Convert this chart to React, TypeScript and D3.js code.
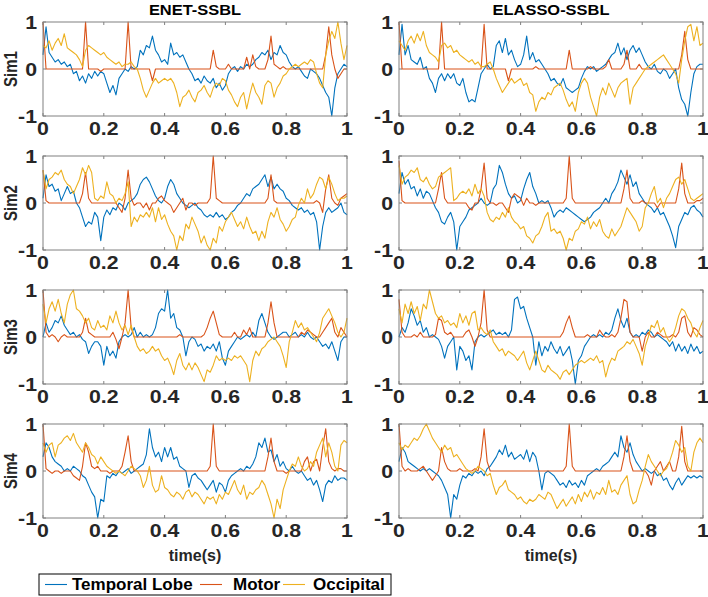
import React from 'react';
import * as d3 from 'd3';

// ---------- labels / ticks ----------
const columnTitles = ['ENET-SSBL', 'ELASSO-SSBL'];
const rowLabels = ['Sim1', 'Sim2', 'Sim3', 'Sim4'];
const xTicks = [0, 0.2, 0.4, 0.6, 0.8, 1];
const xTickLabels = ['0', '0.2', '0.4', '0.6', '0.8', '1'];
const yTicks = [-1, 0, 1];
const yTickLabels = ['-1', '0', '1'];
const seriesNames = ['Temporal Lobe', 'Motor', 'Occipital'];
const seriesColors = ['#0072BD', '#D95319', '#EDB120'];
const xAxisLabel = 'time(s)';
// samples every 0.01 s, 0 .. 1 s
const sampleTimes = d3.range(101).map((i) => i / 100);

// ---------- data: ENET-SSBL ----------
const tempL1 = [0.3,0.9,0.35,0.25,0.15,0.2,0.1,0.15,0.05,0.1,
-0.1,-0.05,-0.25,-0.15,-0.3,-0.1,-0.2,-0.05,-0.15,-0.05,
-0.1,-0.3,-0.5,-0.35,-0.55,-0.2,-0.1,0,-0.05,0.05,
0,0.05,0.4,0.3,0.5,0.45,0.7,0.4,0.3,0.15,
0.2,0.1,0.55,0.3,0.35,0.25,0.3,0.15,0,-0.1,
-0.25,-0.2,-0.3,-0.15,-0.25,-0.3,-0.2,-0.4,-0.3,-0.45,
-0.35,-0.1,0,0.05,-0.05,0.05,0,0.1,0.05,0.1,
0.2,0.25,0.35,0.3,0.4,0.2,0.35,0.3,0.5,0.35,
0.3,0.15,0.05,0,0.05,-0.05,-0.15,-0.2,0,-0.05,
-0.1,-0.2,-0.35,-0.5,-0.6,-1,-0.4,-0.1,0,0.1,
0.05];
const motorL1 = [1,0,0,0,0,0,0,0,0,0,
0,0,0,0,1,0,0,0,0,-0.05,
0,0,0,0,0,0,0,0,1,0,
0,0,0,0,0,0,-0.25,0,0,0,
0,0,0,0,0,0,0,0,0,0,
0,0,0,0,0,0,0.4,0.05,0,0,
0,0.1,0,0,0,0,0,0.25,0,0.3,
0.05,0,0,0,0.2,0.7,0.1,0.05,0,0.05,
0,0,0,0,0,0,0,0,0,0,
0,0,0,0.3,0.9,0.3,0,-0.2,-0.1,0,
0];
const occL1 = [0.5,0.45,0.6,0.4,0.55,0.65,0.5,0.75,0.45,0.4,
0.35,0.3,0.2,0.05,0.4,0.5,0.45,0.4,0.35,0.3,
0.35,0.25,0.2,0.15,0.1,0.15,0.05,0.1,0.1,0.15,
0.05,0,-0.2,-0.45,-0.6,-0.45,-0.3,-0.2,-0.3,-0.25,
-0.2,-0.25,-0.2,-0.3,-0.5,-0.8,-0.6,-0.55,-0.45,-0.6,
-0.7,-0.5,-0.45,-0.35,-0.5,-0.6,-0.4,-0.3,-0.35,-0.2,
-0.25,-0.45,-0.55,-0.7,-0.8,-0.6,-0.5,-0.85,-0.55,-0.3,
-0.5,-0.6,-0.75,-0.35,-0.25,-0.3,-0.6,-0.4,-0.3,-0.15,
-0.1,0,0.05,0.1,0.05,0.1,0.15,0.1,0.2,0.15,
-0.1,-0.3,-0.4,0.3,0.6,0.8,0.65,1,0.55,0.2,
0.5];

const tempL2 = [0.1,0.6,0.35,0.4,0.25,0.3,0.05,0.2,0.35,0.2,
0.25,0,-0.1,-0.3,-0.5,-0.4,-0.45,-0.2,-0.3,-0.8,
-0.3,-0.15,-0.25,-0.1,-0.15,0,-0.05,-0.15,0,0.05,
0.1,0.2,0.4,0.5,0.55,0.45,0.3,0.15,0.05,0,
0.1,0.35,0.5,0.4,0.2,0.1,0,-0.05,-0.1,-0.05,
0,-0.1,-0.15,-0.25,-0.3,-0.25,-0.3,-0.2,-0.3,-0.25,
-0.35,-0.3,-0.2,-0.15,-0.05,0,0.1,0.2,0.15,0.3,
0.35,0.4,0.5,0.6,0.35,0.55,0.3,0.4,0.3,0.25,
0.1,0.05,-0.05,-0.1,-0.15,-0.1,-0.2,-0.15,-0.25,-0.2,
-0.4,-1,-0.5,-0.2,-0.1,-0.2,-0.15,-0.1,0,-0.2,
-0.25];
const motorL2 = [0.7,0.05,0,0,0,0,0,0,0,0,
0,0,0,0.2,0.65,0.1,0,0,0,0,
0,0,0,0,0,-0.1,-0.2,0.1,0.7,0.1,
-0.05,0,0,-0.1,0,-0.15,0,0,0.1,0.15,
0.05,0,-0.05,-0.2,-0.1,0,0.1,-0.15,0,0,
-0.05,0,0,0,0,0.1,1,0.1,0.05,0,
0,0,0,0,0,0,0,0,0,0,
0,0,0,0,0.1,0.6,0.05,0,0,0,
0,0,0,0,0,0,0,0,0,0,
0.05,0,-0.2,0.3,0.6,0.1,0,-0.05,0.1,0.15,
0.2];
const occL2 = [0.7,0.3,0.5,0.55,0.65,0.6,0.7,0.5,0.4,0.35,
0.2,0.35,0.5,0.75,0.6,0.8,0.65,0.1,0.05,0.15,
0.1,0.45,0.2,0.15,0,0.1,0.05,0.2,0.45,-0.5,
-0.3,-0.4,-0.25,-0.3,-0.2,-0.3,-0.1,-0.4,-0.1,-0.35,
-0.25,-0.45,-0.6,-0.7,-1,-0.7,-0.8,-0.45,-0.55,-0.3,
-0.45,-0.6,-0.85,-0.7,-0.9,-1,-0.75,-0.85,-0.5,-0.6,
-0.4,-0.3,-0.2,-0.35,-0.5,-0.4,-0.55,-0.3,-0.5,-0.65,
-0.6,-0.8,-0.6,-0.75,-0.4,-0.2,-0.3,-0.1,-0.35,-0.45,
-0.6,-0.5,-0.35,-0.3,-0.05,0.1,0,0.3,0.1,0.2,
0.4,0.55,0.5,0.3,0.55,0.4,0.2,0.05,0.1,0.1,
0.15];

const tempL3 = [0,0.3,0.1,0.2,0.35,0.3,0.45,0.25,0.15,0.05,
0.1,0,0.05,-0.05,-0.1,-0.35,-0.2,-0.1,-0.1,-0.2,
-0.6,-0.2,-0.4,-0.3,-0.45,-0.1,0,0.05,0,0.05,
0.2,0,0.1,0,0.05,0,0.05,0.2,0.5,0.6,
0.55,1,0.4,0.5,0.2,0.15,0,-0.4,-0.1,0,
-0.05,-0.2,-0.15,-0.3,-0.2,-0.25,-0.15,-0.3,-0.1,-0.45,
-0.6,-0.3,-0.2,-0.1,0,-0.05,0,0.05,0,0.1,
0,0.35,0.5,0.3,0.1,0,-0.05,0,0.05,0.1,
0.1,0,0.05,0.1,0,0.05,0,0.1,0,-0.05,
0,-0.1,-0.2,-0.15,-0.25,-0.1,-0.3,-0.5,-0.1,0,
0];
const motorL3 = [1,0.1,0,0.05,0,-0.1,0,0.05,0,0,
0,0,0,0.1,0.4,0.1,0.05,0,0,0,
0,0,0,0.1,-0.05,-0.25,0,0.3,1,0.2,
0,0,0,0,0,0,0,0,0,0,
0,0,0,0,0,0.05,0,0,0,0,
0,0,0,0.05,0.2,0.4,0.55,0.3,0.05,0,
0,0,0,0.1,0,0,0.15,0.05,0.2,0,
0,0,0,0,0.3,0.75,0.3,0,0,0,
0,0,0,0,0,0.1,0.05,0.15,0.1,0.05,
0,0,0.1,0.2,0.3,0.4,0.1,0,0.2,0.1,
0];
const occL3 = [0.7,0.3,0.6,0.75,0.55,0.8,0.5,0.3,0.7,0.9,
1,0.6,0.55,0.45,0.3,0.4,0.2,0.15,0.35,0.2,
0.25,0.15,0.45,0.3,0.55,0.3,0.15,0.25,0.05,0.25,
0,-0.2,-0.3,-0.25,-0.35,-0.3,-0.2,-0.3,-0.25,-0.4,
-0.5,-0.45,-0.6,-0.8,-0.5,-0.35,-0.6,-0.7,-0.55,-0.7,
-0.55,-0.65,-0.8,-0.95,-0.7,-0.75,-0.6,-0.4,-0.5,-0.45,
-0.5,-0.45,-0.5,-0.4,-0.45,-0.4,-0.5,-0.6,-0.95,-0.5,
-0.3,-0.4,-0.25,-0.2,-0.1,-0.05,0,-0.1,-0.2,-0.4,
-0.65,-0.1,0.1,0.35,0.2,0.3,0.15,0.2,0.1,0,
-0.1,0.1,0.4,0.5,0.6,0.45,0.3,0.1,0,0.1,
0.4];

const tempL4 = [0.3,0.6,0.5,0.3,0.2,0.15,0.1,0,0.05,0,
0.1,0.05,0,-0.1,-0.15,-0.3,-0.45,-0.55,-1,-0.6,
-0.65,-0.1,-0.15,-0.05,-0.1,0,-0.05,0,0.05,-0.05,
0,0.05,0.1,0.15,0.35,0.9,0.5,0.3,0.4,0.2,
0.5,0.3,0.5,0.25,0.3,0.1,0.05,0,-0.35,-0.1,
-0.05,-0.15,-0.2,-0.3,-0.4,-0.3,-0.2,-0.45,-0.25,-0.3,
-0.45,-0.2,-0.1,-0.05,0,0.05,0,0.1,0.05,0.15,
0.3,0.6,0.5,0.7,0.4,0.45,0.2,0.35,0.1,0.2,
0.05,0,0.1,0,-0.05,0,-0.1,-0.2,-0.15,-0.3,
-0.2,-0.4,-0.65,-0.3,-0.2,-0.25,-0.1,-0.2,-0.15,-0.15,
-0.2];
const motorL4 = [1,0.05,0,-0.05,0,0,-0.05,0,0,0,
-0.1,-0.15,-0.2,0.1,0.6,0.4,0.1,0.05,0.1,0,
0,0,-0.05,0,0,0,0.1,0.4,0.75,0.2,
0,0,0,0,0,0,0,0,0,0,
0,0,0,0,0,0,0,0,0,0,
0,0,0,0,0,0.1,1,0.1,0,0,
0,0,0,0,0,0,0,0,0,0,
0,0,0,0,0.3,0.7,0.2,0,0,0,
-0.05,0,0,0,0,0,0.2,0.3,0,0.2,
0.25,0,0.5,0.9,0.2,0.05,0,0.05,0.05,0,
0];
const occL4 = [0.6,0.4,0.55,0.6,0.3,0.55,0.6,0.7,0.75,0.65,
0.8,0.6,0.5,0.4,0.6,0.5,0.35,0.3,0.15,0.3,
0.2,0.1,0.05,0,-0.05,0,-0.05,-0.1,0,0.1,
0.05,0,-0.1,-0.35,-0.2,0.1,-0.3,-0.45,-0.4,-0.1,
-0.35,-0.4,-0.5,-0.55,-0.45,-0.5,-0.6,-0.45,-0.4,-0.55,
-0.45,-0.5,-0.6,-0.7,-0.55,-0.6,-0.55,-0.7,-0.5,-0.6,
-0.45,-0.5,-0.35,-0.2,-0.4,-0.5,-0.3,-0.6,-0.45,-0.5,
-0.4,-0.35,-0.2,-0.3,-0.5,-0.7,-1,-0.6,-0.8,-0.4,
-0.2,0,0.15,0.1,0.3,0.1,0,0.05,0.2,0.1,
0.4,0.55,0.7,0.3,0.6,0.4,0.1,0,0.55,0.65,
0.6];

// ---------- data: ELASSO-SSBL ----------
const tempR1 = [0.3,0.95,0.3,0.5,0.2,0.15,0.1,0.25,0,0.05,
-0.2,-0.3,-0.5,-0.2,-0.1,-0.25,-0.1,-0.2,-0.1,-0.3,
-0.35,-0.2,-0.5,-0.7,-0.65,-0.7,-0.4,-0.1,0,0.1,
0,0.05,0.5,0.6,0.35,0.65,0.3,0.4,0.2,0.05,
0.1,0.3,0.7,0.2,0.35,0.15,0.2,0.1,0,-0.1,
-0.25,-0.2,-0.3,-0.35,-0.2,-0.4,-0.45,-0.5,-0.45,-0.4,
-0.2,-0.05,0.05,0,0.05,-0.05,0,0.05,0.1,0.2,
0.3,0.35,0.55,0.3,0.45,0.2,0.4,0.5,0.35,0.45,
0.3,0.15,0.05,0,0.1,-0.05,-0.1,0,-0.05,-0.2,
-0.1,0,-0.4,-0.65,-0.75,-1,-0.5,-0.1,0.05,0.1,
0.1];
const motorR1 = [1,0,0,0,0,0,0,0,0,0,
0,0,0,0,1,0,0,0,0,0,
0,0,0,0,0,0,0,0,0.95,0,
0,0,0,0,0,0,-0.25,0,0,0,
0,0,0,0,0,0.05,0,0,0,0,
0,0,0,0,0,0,0.4,0,0,0,
0,0,0,0.05,0,0,0,0,0.05,0.2,
0,0,0,0,0.1,0.4,0,0,0,0.1,
0,0,0,0,0,0,0,0,0,0,
0,0,0,0.3,0.8,0.2,0,0,0,0,
0];
const occR1 = [0.6,0.5,0.4,0.6,0.7,0.55,0.75,0.6,0.8,0.5,
0.35,0.3,0.25,0.15,0.5,0.55,0.45,0.5,0.35,0.4,
0.3,0.25,0.2,0.15,0.2,0.1,0.15,0.05,0.05,0.1,
0.15,0,-0.2,-0.35,-0.5,-0.4,-0.3,-0.2,-0.3,-0.25,
-0.2,-0.35,-0.3,-0.5,-0.55,-0.9,-0.7,-0.6,-0.65,-0.5,
-0.55,-0.4,-0.35,-0.3,-0.45,-0.65,-0.8,-0.7,-0.9,-0.5,
-0.3,-0.2,-0.3,-0.6,-0.8,-1,-0.6,-0.4,-0.55,-0.3,
-0.45,-0.6,-0.4,-0.3,-0.25,-0.2,-0.75,-0.4,-0.3,-0.2,
-0.1,0,0.05,0.1,0.15,0.2,0.25,0.3,0.2,0.1,
0,-0.1,-0.3,0.2,0.6,0.9,0.95,0.6,0.9,0.5,
0.55];

const tempR2 = [0.2,0.65,0.4,0.5,0.3,0.35,0.15,0.3,0.1,0.25,
0.2,0.05,-0.1,-0.2,-0.4,-0.45,-0.3,-0.2,-0.4,-1,
-0.5,-0.4,-0.3,-0.15,-0.1,-0.05,0,0.1,0,-0.05,
0,0.3,0.4,0.8,0.65,0.4,0.2,0.1,0.15,0,
0.05,0.3,0.5,0.65,0.35,0.2,0,0.05,0,0.05,
-0.1,-0.3,-0.2,-0.15,-0.2,-0.1,-0.15,-0.2,-0.25,-0.3,
-0.35,-0.4,-0.35,-0.3,-0.2,-0.15,-0.1,0,0.1,0,
0.2,0.3,0.45,0.7,0.55,0.4,0.6,0.35,0.45,0.2,
0.1,0,-0.05,-0.1,-0.2,-0.1,-0.25,-0.2,-0.35,-0.5,
-0.7,-0.95,-0.5,-0.35,-0.2,-0.25,-0.1,-0.05,-0.15,-0.2,
-0.3];
const motorR2 = [0.9,0.05,0,0,0,0,0,0,0,0,
0,0,0,0.3,0.65,0.1,0,0,0,0,
0,0,0,-0.1,-0.15,0,0,0.3,0.85,0.1,
0,0,-0.05,0,0,-0.1,-0.2,0.1,0.2,0.15,
0.1,-0.05,0.1,0,0,-0.05,0,0,0,0,
0,0,0,0,0,0.1,1,0.1,0,0,
0,0,0,0,0,0,0,0,0,0,
0,0,0,0,0.3,0.7,0.1,0,0,0,
0.05,0,0,0,0,-0.1,0,0,0,0,
0,0,0.3,0.85,0.2,0,0,0,0.05,0.05,
0.1];
const occR2 = [0.8,0.4,0.55,0.6,0.7,0.65,0.75,0.5,0.45,0.55,
0.4,0.3,0.35,0.55,0.6,0.65,0.7,0.75,0.05,0.1,
0.2,0.25,0.2,0.3,0.15,0.4,0.2,0.3,0.15,-0.2,
-0.35,-0.4,-0.3,-0.35,-0.2,-0.3,-0.1,-0.3,-0.4,-0.45,
-0.55,-0.5,-0.7,-0.75,-0.85,-0.7,-0.65,-0.5,-0.3,-0.2,
-0.6,-0.55,-0.65,-0.6,-0.75,-1,-0.75,-0.8,-0.6,-0.55,
-0.4,-0.45,-0.3,-0.55,-0.4,-0.5,-0.35,-0.6,-0.7,-0.75,
-0.55,-0.7,-0.6,-0.5,-0.3,-0.1,-0.2,-0.3,-0.4,-0.6,
-0.5,-0.1,0,0.2,0.35,0,0.1,-0.1,0.1,0.2,
0.35,0.5,0.55,0.4,0.5,0.3,0.1,0.05,0.1,0.15,
0.2];

const tempR3 = [0,0.2,0.1,0.3,0.6,0.45,0.25,0.35,0.1,0.2,
0,0.05,0,-0.05,-0.2,-0.45,-0.2,-0.1,0,-0.7,
-0.2,-0.3,-0.5,-0.4,-0.7,-0.1,0,0.05,0,0.05,
0.1,0.15,0.05,0.1,0.05,0.1,0,0.15,0.8,0.85,
0.6,0.65,0.4,0.2,0,-0.6,-0.1,-0.4,-0.2,-0.3,
-0.1,-0.25,-0.35,-0.2,-0.4,-0.3,-0.2,-0.5,-1,-0.5,
-0.4,-0.2,-0.1,0,0.05,0,0.05,0,0.1,0.05,
0.15,0.4,0.6,0.35,0.2,0.4,0.1,0,0.05,0,
0.1,0.05,0.15,0.1,0,0.05,0,-0.05,-0.1,-0.2,
-0.1,-0.3,-0.15,-0.3,-0.2,-0.35,-0.15,-0.3,-0.2,-0.35,
-0.3];
const motorR3 = [0.8,0.1,0,0,0,0.05,0,0.1,0,0,
0,0,0.05,0.4,0.35,0.1,0.05,0.1,0,0,
0,0,0.1,0.15,0,-0.2,0,0.3,1,0.15,
0,0,0,0,0,0,0,0,0,0,
0,0,0,0,0,0,0,0,0,0,
0,0,0,0,0.1,0.3,0.45,0.2,0,0,
0,0,0.05,0,0,0,0.15,0.05,0,0,
0.05,0,0.1,0.4,0.8,0.75,0.1,0,0,0,
-0.3,0,0.1,0,0,0.1,0.05,0,0,0,
0.05,0,0.1,0.4,0.45,0.1,0,0.2,0.15,0.05,
0];
const occR3 = [0.6,0.3,0.7,0.5,0.75,0.5,0.65,0.35,0.7,0.6,
1,0.75,0.5,0.4,0.45,0.3,0.35,0.25,0.3,0.2,
0.5,0.3,0.45,0.25,0.5,0.55,0.15,0.2,0.1,0.05,
0.15,-0.1,-0.2,-0.3,-0.25,-0.4,-0.3,-0.35,-0.4,-0.5,
-0.4,-0.3,-0.55,-0.7,-0.5,-0.3,-0.5,-0.7,-0.75,-0.6,
-0.7,-0.75,-0.8,-0.9,-0.75,-0.7,-0.8,-0.7,-0.6,-0.55,
-0.5,-0.55,-0.5,-0.45,-0.5,-0.4,-0.55,-0.5,-0.85,-0.6,
-0.45,-0.5,-0.3,-0.25,-0.2,-0.1,-0.15,-0.05,-0.2,-0.35,
-0.6,-0.2,0,0.25,0.2,0.35,0.1,0.2,0,-0.1,
0,0.2,0.45,0.6,0.55,0.4,0.3,0.1,0,0.2,
0.35];

const tempR4 = [0.2,0.5,0.4,0.2,0.15,0.1,0.05,0,0.05,0,
0.05,0,-0.05,-0.1,-0.2,-0.35,-0.5,-1,-0.5,-0.6,
-0.3,-0.1,-0.15,-0.05,-0.1,0,-0.05,0,-0.1,0.05,
0.1,0.2,0.3,0.45,0.35,0.55,0.3,0.4,0.25,0.3,
0.35,0.25,0.45,0.2,0.4,0.3,0,-0.4,-0.05,0,
-0.05,-0.1,-0.2,-0.3,-0.25,-0.35,-0.2,-0.3,-0.25,-0.35,
-0.2,-0.3,-0.1,-0.05,0,0.05,0,0.1,0.15,0.2,
0.3,0.4,0.3,0.75,0.5,0.4,0.6,0.35,0.2,0.1,
0,0.05,0,-0.05,0,-0.1,-0.05,-0.2,-0.15,-0.3,
-0.4,-0.25,-0.15,-0.3,-0.2,-0.1,-0.15,-0.1,-0.15,-0.1,
-0.15];
const motorR4 = [1,0.1,0,0.05,0,0,0,0.05,0.1,0,
-0.1,-0.2,-0.1,0,0.5,0.2,0.05,0,0,0,
0.05,0,0,0,0,0.05,0,0.3,0.9,0.2,
0,0,0,0,0,0,0,0,0,0,
0,0,0,0,0,0,0,0,0,0,
0,0,0,0,0,0.1,1,0.1,0,0,
0,0,0,0,0,0,0,0,0,0,
0,0,0,0,0.3,0.75,0.2,0,0,0,
0,0,-0.1,-0.3,0,0.1,0.2,0,0.1,0.2,
0,0,0.3,0.95,0.2,0,0,0,0,0,
0];
const occR4 = [0.6,0.45,0.55,0.5,0.6,0.7,0.65,0.75,0.9,1,
0.85,0.7,0.6,0.5,0.4,0.55,0.45,0.5,0.3,0.35,
0.25,0.15,0.05,0,-0.05,0,0.1,0.05,0,-0.1,
-0.05,-0.3,-0.5,-0.35,-0.3,-0.2,-0.4,-0.45,-0.5,-0.6,
-0.55,-0.65,-0.7,-0.6,-0.65,-0.6,-0.5,-0.55,-0.6,-0.45,
-0.5,-0.65,-0.8,-0.7,-0.6,-0.75,-0.65,-0.55,-0.7,-0.5,
-0.65,-0.45,-0.55,-0.4,-0.6,-0.45,-0.5,-0.35,-0.5,-0.2,
-0.45,-0.4,-0.5,-0.3,-0.2,-0.1,-0.5,-0.7,-0.65,-0.4,
-0.2,0.1,0.35,0.2,0.1,0,-0.1,0,0.05,0.2,
0.4,0.65,0.55,0.4,0.5,0.1,0,0.4,0.6,0.7,
0.6];

// panel table built from the arrays: [column][row] -> [temporal, motor, occipital]
const panelSeries = [
  [[tempL1, motorL1, occL1], [tempL2, motorL2, occL2], [tempL3, motorL3, occL3], [tempL4, motorL4, occL4]],
  [[tempR1, motorR1, occR1], [tempR2, motorR2, occR2], [tempR3, motorR3, occR3], [tempR4, motorR4, occR4]],
];

// ---------- layout ----------
const W = 708;
const H = 597;
const colX = [43, 399];
const panelW = 304;
const rowY = [22, 156, 290, 424];
const panelH = 94;
const FONT = '"Liberation Sans", Arial, Helvetica, sans-serif';
const AXIS_GRAY = '#808080';
const TICK_FS = 19;
const STRETCH = 1.12;

function Panel({ col, row }: { col: number; row: number }) {
  const x0 = colX[col];
  const y0 = rowY[row];
  const x = d3.scaleLinear().domain([0, 1]).range([x0, x0 + panelW]);
  const y = d3.scaleLinear().domain([-1, 1]).range([y0 + panelH, y0]);
  const line = d3
    .line<number>()
    .x((_, i) => x(sampleTimes[i]))
    .y((d) => y(d));
  const series = panelSeries[col][row];
  const tl = 3;
  return (
    <g>
      <rect x={x0} y={y0} width={panelW} height={panelH} fill="#fff" />
      {series.map((s, k) => (
        <path key={k} d={line(s) || ''} fill="none" stroke={seriesColors[k]} strokeWidth={1.1} strokeLinejoin="round" />
      ))}
      <rect x={x0} y={y0} width={panelW} height={panelH} fill="none" stroke={AXIS_GRAY} strokeWidth={1} />
      {xTicks.map((t, i) => (
        <g key={'xt' + i}>
          <line x1={x(t)} x2={x(t)} y1={y0 + panelH} y2={y0 + panelH - tl} stroke={AXIS_GRAY} />
          <line x1={x(t)} x2={x(t)} y1={y0} y2={y0 + tl} stroke={AXIS_GRAY} />
          <text
            transform={`translate(${x(t)}, ${y0 + panelH + 19}) scale(${STRETCH}, 1)`}
            textAnchor="middle"
            fontFamily={FONT}
            fontWeight="bold"
            fontSize={TICK_FS}
            fill="#262626"
          >
            {xTickLabels[i]}
          </text>
        </g>
      ))}
      {yTicks.map((t, i) => (
        <g key={'yt' + i}>
          <line x1={x0} x2={x0 + tl} y1={y(t)} y2={y(t)} stroke={AXIS_GRAY} />
          <line x1={x0 + panelW} x2={x0 + panelW - tl} y1={y(t)} y2={y(t)} stroke={AXIS_GRAY} />
          <text
            transform={`translate(${x0 - 6}, ${y(t) + 6.5}) scale(${STRETCH}, 1)`}
            textAnchor="end"
            fontFamily={FONT}
            fontWeight="bold"
            fontSize={TICK_FS}
            fill="#262626"
          >
            {yTickLabels[i]}
          </text>
        </g>
      ))}
      {col === 0 && (
        <text
          transform={`translate(17, ${y0 + panelH / 2}) rotate(-90) scale(1, 1.2)`}
          textAnchor="middle"
          fontFamily={FONT}
          fontWeight="bold"
          fontSize={15}
          fill="#262626"
        >
          {rowLabels[row]}
        </text>
      )}
      {row === 0 && (
        <text
          transform={`translate(${x0 + panelW / 2}, 15) scale(1.06, 1)`}
          textAnchor="middle"
          fontFamily={FONT}
          fontWeight="bold"
          fontSize={15.5}
          fill="#000"
        >
          {columnTitles[col]}
        </text>
      )}
      {row === 3 && (
        <text x={x0 + panelW / 2} y={561} textAnchor="middle" fontFamily={FONT} fontWeight="bold" fontSize={16} fill="#262626">
          {xAxisLabel}
        </text>
      )}
    </g>
  );
}

function Legend() {
  const lx = 39;
  const ly = 574;
  const lw = 352;
  const lh = 21;
  const items = [
    { lineX: 45, textX: 72 },
    { lineX: 200, textX: 233 },
    { lineX: 283, textX: 313 },
  ];
  return (
    <g>
      <rect x={lx} y={ly} width={lw} height={lh} fill="#fff" stroke="#000" strokeWidth={1} />
      {seriesNames.map((name, k) => (
        <g key={k}>
          <line x1={items[k].lineX} x2={items[k].lineX + 22} y1={ly + lh / 2} y2={ly + lh / 2} stroke={seriesColors[k]} strokeWidth={1.1} />
          <text x={items[k].textX} y={ly + 16} fontFamily={FONT} fontWeight="bold" fontSize={17} fill="#000">
            {name}
          </text>
        </g>
      ))}
    </g>
  );
}

export default function App() {
  return (
    <svg width={W} height={H} viewBox={`0 0 ${W} ${H}`} style={{ position: 'absolute', left: 0, top: 0, background: '#fff' }}>
      <rect x={0} y={0} width={W} height={H} fill="#fff" />
      {[0, 1].map((c) => [0, 1, 2, 3].map((r) => <Panel key={`${c}-${r}`} col={c} row={r} />))}
      <Legend />
    </svg>
  );
}
